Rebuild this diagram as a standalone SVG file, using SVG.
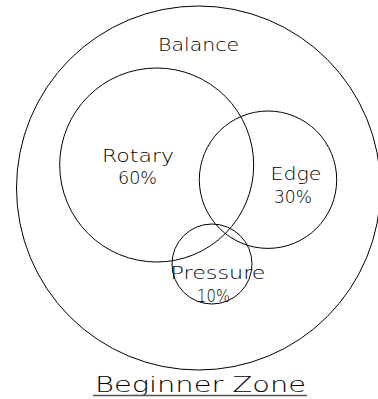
<svg xmlns="http://www.w3.org/2000/svg" width="378" height="399" viewBox="0 0 378 399">
<style>
.c{fill:none;stroke:#000;stroke-width:1}
.t{font-family:"DejaVu Sans","Liberation Sans",sans-serif;font-weight:200;font-size:17px;fill:#000;text-anchor:middle}
.big{font-size:22px}
</style>
<rect width="378" height="399" fill="#fff"/>
<g id="balance">
<circle class="c" cx="198.5" cy="188" r="182"/>
<text class="t" x="198.5" y="51" textLength="81" lengthAdjust="spacingAndGlyphs">Balance</text>
</g>
<g id="rotary">
<circle class="c" cx="156.7" cy="165" r="97"/>
<text class="t" x="138" y="162" textLength="72" lengthAdjust="spacingAndGlyphs">Rotary</text>
<text class="t" x="137.5" y="184" textLength="39" lengthAdjust="spacingAndGlyphs">60%</text>
</g>
<g id="edge">
<circle class="c" cx="268" cy="179.7" r="68.7"/>
<text class="t" x="296" y="180" textLength="51" lengthAdjust="spacingAndGlyphs">Edge</text>
<text class="t" x="293" y="203" textLength="38" lengthAdjust="spacingAndGlyphs">30%</text>
</g>
<g id="pressure">
<circle class="c" cx="212" cy="264" r="40"/>
<text class="t" x="218" y="279" textLength="95" lengthAdjust="spacingAndGlyphs">Pressure</text>
<text class="t" x="213.5" y="301.5" textLength="33" lengthAdjust="spacingAndGlyphs">10%</text>
</g>
<g id="title">
<text class="t big" x="200.5" y="391.5" textLength="211" lengthAdjust="spacingAndGlyphs">Beginner Zone</text>
<line x1="93" y1="395.5" x2="307" y2="395.5" stroke="#555" stroke-width="1.5"/>
</g>
</svg>
